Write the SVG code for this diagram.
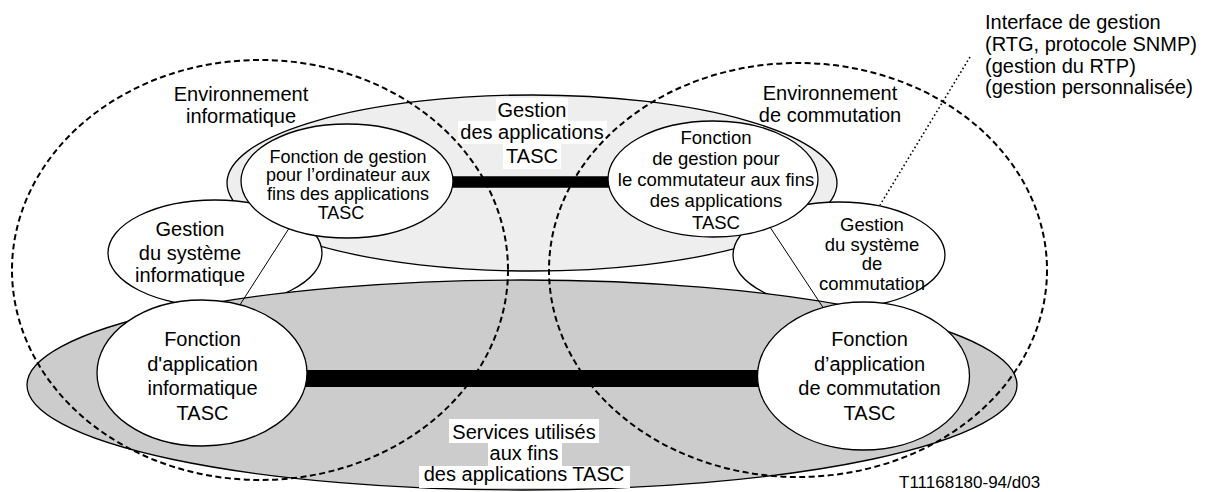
<svg xmlns="http://www.w3.org/2000/svg" width="1208" height="492" viewBox="0 0 1208 492">
<style>
text { font-family: "Liberation Sans", Arial, Helvetica, sans-serif; fill: #000; }
.t20 { font-size: 20px; }
.t18 { font-size: 18.5px; }
.t18s { font-size: 18px; }
.t17 { font-size: 17px; }
.c { text-anchor: middle; }
.node { stroke: #000; stroke-width: 1.3; }
.white { fill: #fff; }
.light { fill: #eeeeee; }
.dark { fill: #cccccc; }
.env { fill: none; stroke: #000; stroke-width: 2; stroke-dasharray: 6 3.5; }
.bg { fill: #fff; }
.bar { stroke: #000; fill: none; }
.thin { stroke: #000; stroke-width: 1; fill: none; }
.dot { stroke: #000; stroke-width: 1.6; stroke-dasharray: 1.6 2.6; fill: none; }
</style>
<rect x="0" y="0" width="1208" height="492" fill="#fff"/>

<g id="gestion-applications">
  <ellipse class="node light" cx="532" cy="183" rx="305" ry="88"/>
  <rect class="bg" x="496" y="98" width="72" height="23"/>
  <rect class="bg" x="458" y="121" width="149" height="23"/>
  <rect class="bg" x="503" y="144" width="58" height="25"/>
  <text class="t20 c" x="532" y="116.5">Gestion</text>
  <text class="t20 c" x="532" y="139">des applications</text>
  <text class="t20 c" x="532" y="163">TASC</text>
</g>

<g id="gestion-systeme-informatique">
  <ellipse class="node white" cx="215" cy="253" rx="107" ry="53"/>
  <text class="t20 c" x="190" y="236">Gestion</text>
  <text class="t20 c" x="190" y="259.5">du système</text>
  <text class="t20 c" x="190" y="282">informatique</text>
</g>

<g id="gestion-systeme-commutation">
  <ellipse class="node white" cx="839" cy="255" rx="106" ry="53"/>
  <text class="t18 c" x="872" y="231">Gestion</text>
  <text class="t18 c" x="872" y="250.5">du système</text>
  <text class="t18 c" x="872" y="269.5">de</text>
  <text class="t18 c" x="872" y="289.5">commutation</text>
</g>

<g id="services">
  <ellipse class="node dark" cx="522" cy="385" rx="495" ry="105"/>
  <rect class="bg" x="449" y="419" width="150" height="24"/>
  <rect class="bg" x="488" y="443" width="74" height="23"/>
  <rect class="bg" x="419" y="466" width="211" height="22"/>
  <text class="t20 c" x="524" y="439">Services utilisés</text>
  <text class="t20 c" x="524" y="460">aux fins</text>
  <text class="t20 c" x="524" y="481">des applications TASC</text>
</g>

<g id="connectors">
  <line class="bar" x1="440" y1="182" x2="620" y2="182" stroke-width="11.5"/>
  <line class="bar" x1="300" y1="378.5" x2="770" y2="378.5" stroke-width="17"/>
  <line class="thin" x1="295" y1="219" x2="236" y2="311"/>
  <line class="thin" x1="764" y1="218" x2="828" y2="315"/>
  <line class="dot" x1="970" y1="57" x2="880" y2="205"/>
</g>

<g id="fonction-gestion-ordinateur">
  <ellipse class="node white" cx="347" cy="181" rx="106" ry="57"/>
  <text class="t18s c" x="348" y="162.5">Fonction de gestion</text>
  <text class="t18s c" x="348" y="181.3">pour l’ordinateur aux</text>
  <text class="t18s c" x="348" y="200">fins des applications</text>
  <text class="t18s c" x="341" y="218.7">TASC</text>
</g>

<g id="fonction-gestion-commutateur">
  <ellipse class="node white" cx="713" cy="179" rx="105" ry="58"/>
  <text class="t18 c" x="716" y="144">Fonction</text>
  <text class="t18 c" x="716" y="165">de gestion pour</text>
  <text class="t18 c" x="716" y="185.5">le commutateur aux fins</text>
  <text class="t18 c" x="716" y="207">des applications</text>
  <text class="t18 c" x="716" y="229">TASC</text>
</g>

<g id="fonction-application-informatique">
  <ellipse class="node white" cx="202" cy="373" rx="105" ry="73"/>
  <text class="t20 c" x="202.5" y="346">Fonction</text>
  <text class="t20 c" x="202.5" y="370.5">d'application</text>
  <text class="t20 c" x="202.5" y="395">informatique</text>
  <text class="t20 c" x="202.5" y="419.5">TASC</text>
</g>

<g id="fonction-application-commutation">
  <ellipse class="node white" cx="863.5" cy="376" rx="106" ry="74"/>
  <text class="t20 c" x="869.5" y="346">Fonction</text>
  <text class="t20 c" x="869.5" y="370.5">d’application</text>
  <text class="t20 c" x="869.5" y="395">de commutation</text>
  <text class="t20 c" x="869.5" y="419.5">TASC</text>
</g>

<g id="environnement-informatique">
  <ellipse class="env" cx="260" cy="270" rx="248" ry="210"/>
  <text class="t20 c" x="241" y="101">Environnement</text>
  <text class="t20 c" x="241" y="123">informatique</text>
</g>

<g id="environnement-commutation">
  <ellipse class="env" cx="798" cy="270" rx="249" ry="207"/>
  <text class="t20 c" x="830" y="99.5">Environnement</text>
  <text class="t20 c" x="830" y="121.5">de commutation</text>
</g>

<g id="interface-gestion">
  <text class="t20" x="985" y="29">Interface de gestion</text>
  <text class="t20" x="985" y="50.7">(RTG, protocole SNMP)</text>
  <text class="t20" x="985" y="72.7">(gestion du RTP)</text>
  <text class="t20" x="985" y="94.3">(gestion personnalisée)</text>
</g>

<g id="reference">
  <text class="t17" x="899" y="488">T11168180-94/d03</text>
</g>
</svg>
